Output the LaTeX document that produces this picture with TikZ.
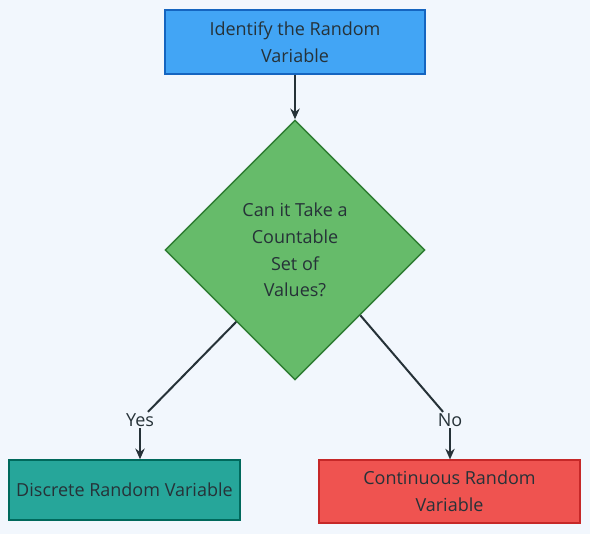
\documentclass[tikz,border=0pt]{standalone}
\usepackage{fontspec}
\setmainfont{Open Sans}
\usetikzlibrary{shapes.geometric,arrows.meta,calc}
\definecolor{bgc}{HTML}{F2F7FD}
\definecolor{ink}{HTML}{263238}
\definecolor{identfill}{HTML}{42A5F5}
\definecolor{identline}{HTML}{1565C0}
\definecolor{countfill}{HTML}{66BB6A}
\definecolor{countline}{HTML}{2E7D32}
\definecolor{discrfill}{HTML}{26A69A}
\definecolor{discrline}{HTML}{00695C}
\definecolor{continfill}{HTML}{EF5350}
\definecolor{continline}{HTML}{C62828}
\tikzset{
  box/.style={draw, line width=1.1pt, align=center, text=ink, inner sep=0pt},
  flow/.style={draw=ink, line width=1.5pt},
  lbl/.style={fill=bgc, text=ink, inner sep=1pt}
}
\begin{document}
\begin{tikzpicture}[x=0.75pt, y=-0.75pt, font=\fontsize{13.5}{20}\selectfont]
\fill[bgc] (0,0) rectangle (590,534);
\node[box, fill=identfill, draw=identline, minimum width=195pt, minimum height=48pt] (ident) at (295,42) {Identify the Random\\Variable};
\node[box, diamond, aspect=1, fill=countfill, draw=countline, minimum width=195pt, minimum height=195pt] (count) at (295,250) {Can it Take a\\Countable\\Set of\\Values?};
\node[box, fill=discrfill, draw=discrline, minimum width=173pt, minimum height=45pt] (discr) at (124.5,490) {Discrete Random Variable};
\node[box, fill=continfill, draw=continline, minimum width=196pt, minimum height=47pt] (contin) at (449.5,491.5) {Continuous Random\\Variable};
\node[lbl] (yes) at (140,420) {Yes};
\node[lbl] (no) at (450,420) {No};
\draw[flow, -{Stealth[length=8pt,width=7pt]}] (ident) -- (count);
\draw[flow] ($(count.west)!0.55!(count.south)$) -- (yes);
\draw[flow, -{Stealth[length=8pt,width=7pt]}] (yes) -- (discr.north -| yes);
\draw[flow] ($(count.east)!0.5!(count.south)$) -- (no);
\draw[flow, -{Stealth[length=8pt,width=7pt]}] (no) -- (contin.north -| no);
\end{tikzpicture}
\end{document}
